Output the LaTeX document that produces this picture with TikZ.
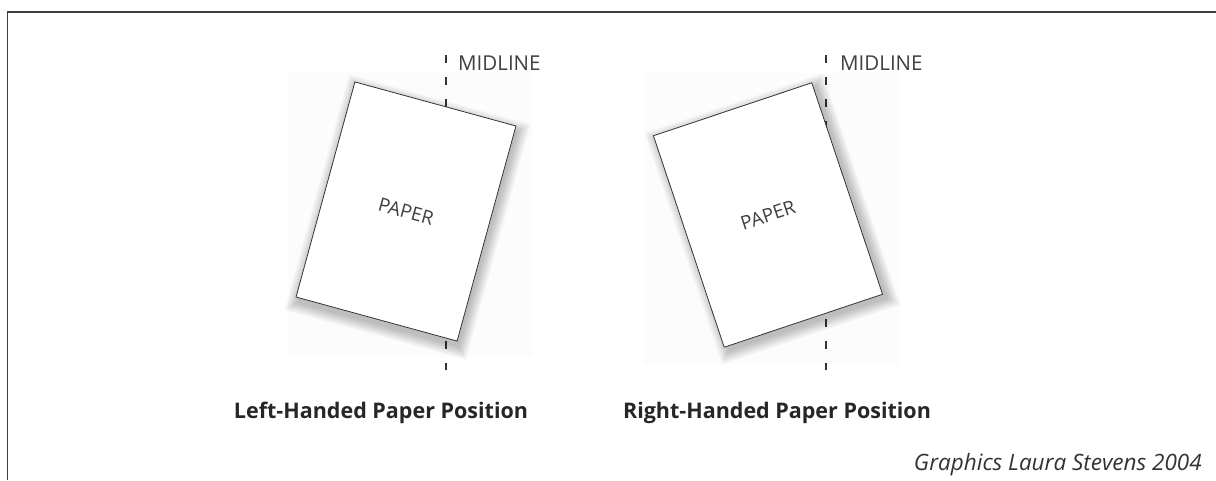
\documentclass[tikz,border=0pt]{standalone}
\usepackage{fontspec}
\setmainfont{Open Sans}
\begin{document}
\begin{tikzpicture}[x=1pt,y=-1pt,
  paper/.style={draw=black!80, line width=0.8pt, fill=white, minimum width=167pt, minimum height=223pt, inner sep=0pt, font=\fontsize{19}{22}\selectfont, text=black!75},
  midline/.style={draw=black!80, line width=1.3pt, dash pattern=on 8pt off 14pt},
  midlabel/.style={anchor=base west, font=\fontsize{20.5}{24}\selectfont, text=black!75, inner sep=0pt},
  caption/.style={font=\bfseries\fontsize{21.5}{25}\selectfont, text=black!85, inner sep=0pt},
  credit/.style={font=\itshape\fontsize{22.5}{26}\selectfont, text=black!80, anchor=base east, inner sep=0pt},
  frameline/.style={draw=black!75, line width=1.5pt},
  bgarea/.style={fill=black!1.2, draw=none},
  shadowlayer/.style={fill=black, opacity=0.018, draw=none}
]
\useasboundingbox (0,0) rectangle (1216,480);
\fill[white] (0,0) rectangle (1216,480);

% frame
\coordinate (fa) at (1216,12);
\coordinate (fb) at (7.5,12);
\coordinate (fc) at (7.5,480);
\draw[frameline] (fa) -- (fb) -- (fc);

% faint backgrounds
\fill[bgarea] (288,72) rectangle (533,357);
\fill[bgarea] (643,73) rectangle (900,365);

% midlines
\coordinate (lt) at (446,55);
\coordinate (lb) at (446,370);
\coordinate (rt) at (826,55);
\coordinate (rb) at (826,370);
\draw[midline] (lt) -- (lb);
\draw[midline] (rt) -- (rb);
\node[midlabel] (lml) at (458,70) {MIDLINE};
\node[midlabel] (rml) at (840,70) {MIDLINE};

% shadows
\begin{scope}[shift={(406,211.5)}, rotate=-15.3]
  \foreach \i in {0,...,12}
    \fill[shadowlayer] ({-83.5+3-\i*0.9},{-111.5+5-\i*0.9}) rectangle ({83.5+3+\i*0.9},{111.5+5+\i*0.9});
\end{scope}
\begin{scope}[shift={(768,215)}, rotate=18.5]
  \foreach \i in {0,...,12}
    \fill[shadowlayer] ({-83.5+3-\i*0.9},{-111.5+5-\i*0.9}) rectangle ({83.5+3+\i*0.9},{111.5+5+\i*0.9});
\end{scope}

% papers
\node[paper, rotate=-15.3] (lp) at (406,211.5) {PAPER};
\node[paper, rotate=18.5] (rp) at (768,215) {PAPER};

% captions
\node[caption] (lc) at (381,413) {Left-Handed Paper Position};
\node[caption] (rc) at (777,413) {Right-Handed Paper Position};
\node[credit] (cr) at (1202,470) {Graphics Laura Stevens 2004};
\end{tikzpicture}
\end{document}
